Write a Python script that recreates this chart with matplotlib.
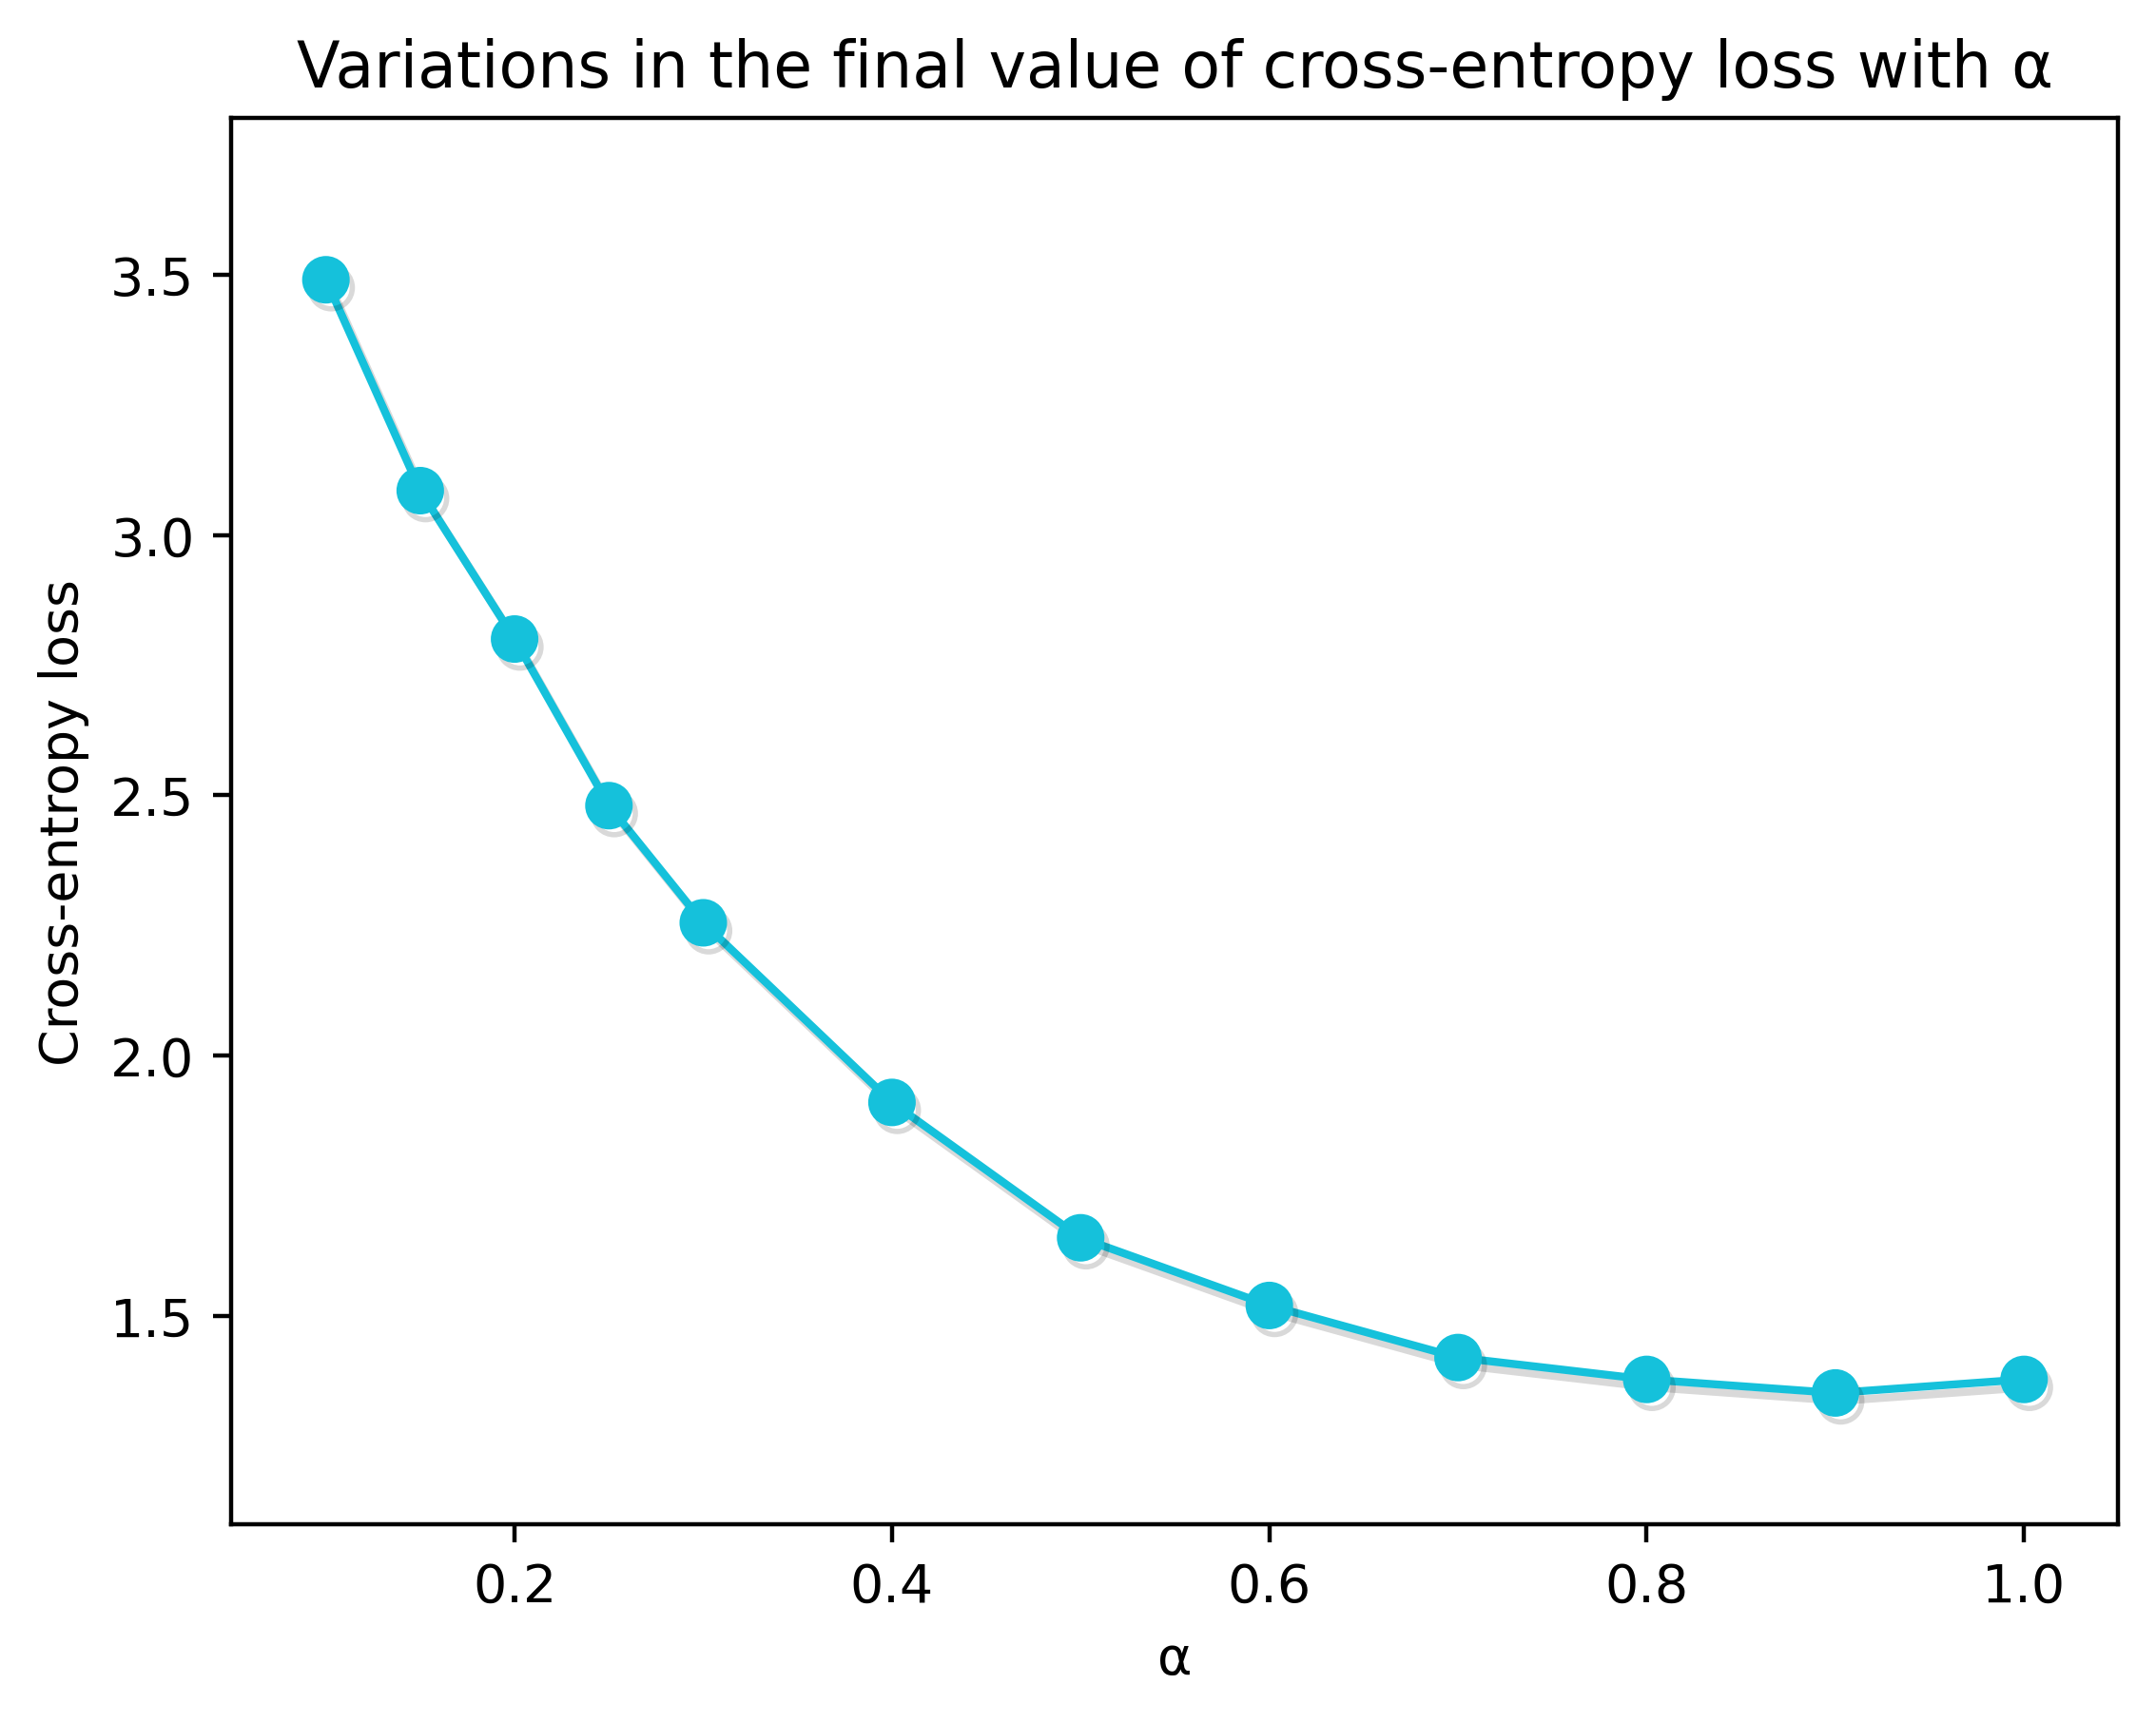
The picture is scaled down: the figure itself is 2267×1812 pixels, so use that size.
import matplotlib
matplotlib.use("Agg")
import matplotlib.pyplot as plt
import matplotlib.patheffects as pe

# alpha values and the final cross-entropy loss
alphas = [0.1, 0.15, 0.2, 0.25, 0.3, 0.4, 0.5, 0.6, 0.7, 0.8, 0.9, 1.0]
losses = [3.49, 3.085, 2.80, 2.48, 2.255, 1.91, 1.65, 1.52, 1.42, 1.378, 1.352, 1.378]

fig, ax = plt.subplots(figsize=(6.4, 4.8))

ax.plot(alphas, losses, marker='o', color='#15c1db', linewidth=1.5, markersize=8,
        path_effects=[pe.SimpleLineShadow(offset=(1, -1.5), alpha=0.15), pe.Normal()])

ax.set_xlim(0.05, 1.05)
ax.set_ylim(1.1, 3.8)
ax.set_yticks([1.5, 2.0, 2.5, 3.0, 3.5])
ax.set_xlabel("α")
ax.set_ylabel("Cross-entropy loss")
ax.set_title("Variations in the final value of cross-entropy loss with α")

plt.savefig("out.png", dpi=400, bbox_inches='tight')
plt.close()
